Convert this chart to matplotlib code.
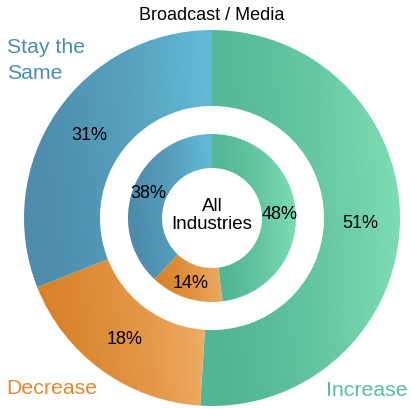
import numpy as np
import matplotlib
matplotlib.use("Agg")
import matplotlib.pyplot as plt
from matplotlib.colors import LinearSegmentedColormap

plt.rcParams['font.family'] = ['Liberation Sans', 'DejaVu Sans']

categories = ["Increase", "Decrease", "Stay the\nSame"]
outer_values = [51, 18, 31]   # Broadcast / Media
inner_values = [48, 14, 38]   # All Industries
title = "Broadcast / Media"
center_label = "All\nIndustries"

# dark -> light for each category (left to right)
grad_colors = [("#50b695", "#7edcb2"),
               ("#d88229", "#eeac64"),
               ("#4e8cac", "#62bad6")]
label_colors = ["#5bbf9a", "#e08a30", "#4a8fb0"]

fig = plt.figure(figsize=(4.11, 4.10), dpi=100)
ax = fig.add_axes([0, 0, 1, 1])
ax.set_aspect("equal")


def ring(values, radius, width, pctdist):
    wedges, texts, autotexts = ax.pie(
        values, radius=radius, startangle=90, counterclock=False,
        wedgeprops=dict(width=width, linewidth=0),
        autopct="%d%%", pctdistance=pctdist,
        textprops=dict(fontsize=13, color="black"))
    for w, (c0, c1) in zip(wedges, grad_colors):
        w.set_facecolor("none")
        bb = w.get_path().get_extents(w.get_transform() + ax.transData.inverted())
        cmap = LinearSegmentedColormap.from_list("g", [c0, c1])
        xx = np.linspace(0, 1, 256) ** 1.4
        grad = np.tile(xx, (64, 1))
        grad = grad + np.linspace(-0.06, 0.06, 64)[:, None]
        im = ax.imshow(np.clip(grad, 0, 1), cmap=cmap, vmin=0, vmax=1,
                       extent=[bb.x0, bb.x1, bb.y0, bb.y1], origin="lower",
                       aspect="auto", interpolation="bilinear", zorder=0)
        im.set_clip_path(w)
    return wedges


ring(outer_values, 1.0, 0.404, 0.79)
ring(inner_values, 0.447, 0.181, 0.81)

ax.text(0, 0.02, center_label, ha="center", va="center", fontsize=13.5,
        linespacing=1.1)

ax.set_xlim(-212 / 188, 199 / 188)
ax.set_ylim(-191 / 188, 219 / 188)
ax.axis("off")

fig.text(0.516, 0.963, title, ha="center", va="center", fontsize=13)
fig.text(0.018, 0.852, categories[2], ha="left", va="center", fontsize=15.3,
         color=label_colors[2], linespacing=1.45)
fig.text(0.014, 0.052, categories[1], ha="left", va="center", fontsize=15.3,
         color=label_colors[1])
fig.text(0.993, 0.047, categories[0], ha="right", va="center", fontsize=15.3,
         color=label_colors[0])

fig.savefig("out.png", dpi=100)
